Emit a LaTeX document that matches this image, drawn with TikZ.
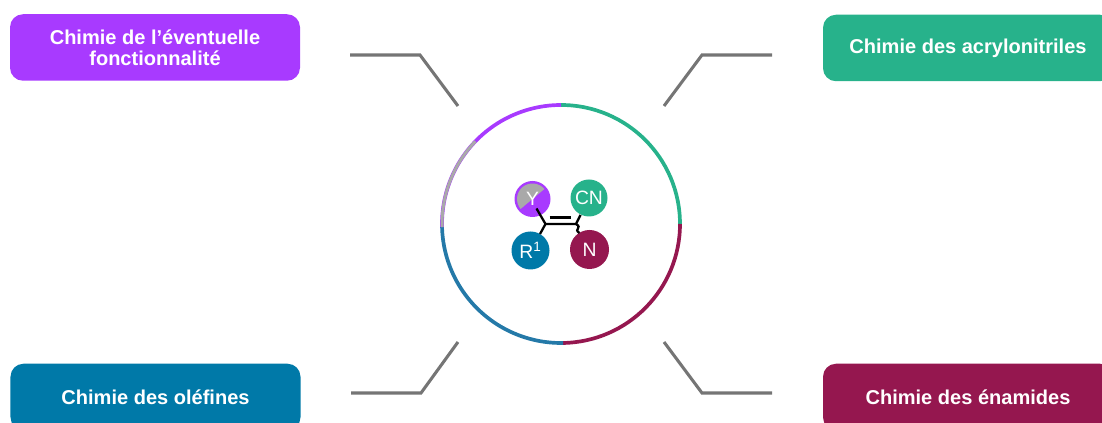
\documentclass[tikz,border=0pt]{standalone}
\usepackage{xcolor}
\usepackage{fontspec}
\setmainfont{Liberation Sans}
\usepackage{tikz}
\definecolor{violetFn}{HTML}{A83AFF}
\definecolor{greenCN}{HTML}{27B28B}
\definecolor{crimsonN}{HTML}{95174F}
\definecolor{blueR}{HTML}{0079A8}
\definecolor{blueArc}{HTML}{2479A8}
\definecolor{greyY}{HTML}{A9A9A9}
\definecolor{greyLink}{HTML}{757575}

\begin{document}
\begin{tikzpicture}[
    fbox/.style={rounded corners=0.26cm, minimum width=5.8cm, minimum height=1.33cm, align=center, text=white, font=\fontsize{11.4}{11.7}\selectfont\bfseries},
    atom/.style={circle, inner sep=0pt, text=white, font=\fontsize{11}{12}\selectfont},
    leader/.style={draw=greyLink, line width=1.75pt},
    ringarc/.style={line width=2.1pt},
    bond/.style={draw=black, line width=1.3pt}
]
\path[use as bounding box, clip] (0, 0) rectangle (22.04, 8.46);

\node[fbox, fill=violetFn] (fn) at (3.10, 7.51) {Chimie de l’éventuelle\\ fonctionnalité};
\node[fbox, fill=greenCN] (acn) at (19.36, 7.50) {Chimie des acrylonitriles};
\node[fbox, fill=blueR] (ole) at (3.11, 0.52) {Chimie des oléfines};
\node[fbox, fill=crimsonN] (ena) at (19.36, 0.52) {Chimie des énamides};

\coordinate (ring) at (11.22, 3.98);
\draw[ringarc, greenCN] (ring) ++(90:2.38) arc[start angle=90, end angle=0, radius=2.38];
\draw[ringarc, crimsonN] (ring) ++(0:2.38) arc[start angle=0, end angle=-89, radius=2.38];
\draw[ringarc, blueArc] (ring) ++(-89:2.38) arc[start angle=-89, end angle=-181.5, radius=2.38];
\draw[ringarc, violetFn] (ring) ++(90:2.38) arc[start angle=90, end angle=181.5, radius=2.38];
\draw[line width=1.7pt, greyY] (ring) ++(136:2.38) arc[start angle=136, end angle=181.5, radius=2.38];

\coordinate (tlA) at (7.00, 7.36);
\coordinate (tlB) at (8.40, 7.36);
\coordinate (tlC) at (9.16, 6.34);
\coordinate (trA) at (15.44, 7.36);
\coordinate (trB) at (14.04, 7.36);
\coordinate (trC) at (13.28, 6.34);
\coordinate (blA) at (7.02, 0.60);
\coordinate (blB) at (8.42, 0.60);
\coordinate (blC) at (9.16, 1.62);
\coordinate (brA) at (15.44, 0.60);
\coordinate (brB) at (14.04, 0.60);
\coordinate (brC) at (13.28, 1.62);
\draw[leader] (tlA) -- (tlB) -- (tlC);
\draw[leader] (trA) -- (trB) -- (trC);
\draw[leader] (blA) -- (blB) -- (blC);
\draw[leader] (brA) -- (brB) -- (brC);

\node[atom, fill=violetFn, minimum size=0.72cm, path picture={
    \fill[greyY] (path picture bounding box.center) -- +(40:0.31) arc[start angle=40, end angle=220, radius=0.31] -- cycle;
}] (Y) at (10.65, 4.48) {Y};
\node[atom, fill=greenCN, minimum size=0.74cm] (CN) at (11.78, 4.50) {CN};
\node[atom, fill=blueR, minimum size=0.76cm] (R) at (10.61, 3.45) {R\textsuperscript{1}};
\node[atom, fill=crimsonN, minimum size=0.78cm] (N) at (11.79, 3.47) {N};

\coordinate (cL) at (10.91, 3.98);
\coordinate (cR) at (11.52, 3.98);
\coordinate (dbL) at (10.99, 4.11);
\coordinate (dbR) at (11.42, 4.11);
\coordinate (yEnd) at (10.73, 4.29);
\coordinate (rEnd) at (10.80, 3.78);
\coordinate (cnEnd) at (11.61, 4.16);
\coordinate (nEnd) at (11.59, 3.80);
\draw[bond] (yEnd) -- (cL) -- (rEnd);
\draw[bond] (cL) -- (cR) -- (cnEnd);
\draw[bond] (dbL) -- (dbR);
\draw[bond] (cR) .. controls (11.66, 3.90) and (11.46, 3.88) .. (nEnd);
\end{tikzpicture}
\end{document}
